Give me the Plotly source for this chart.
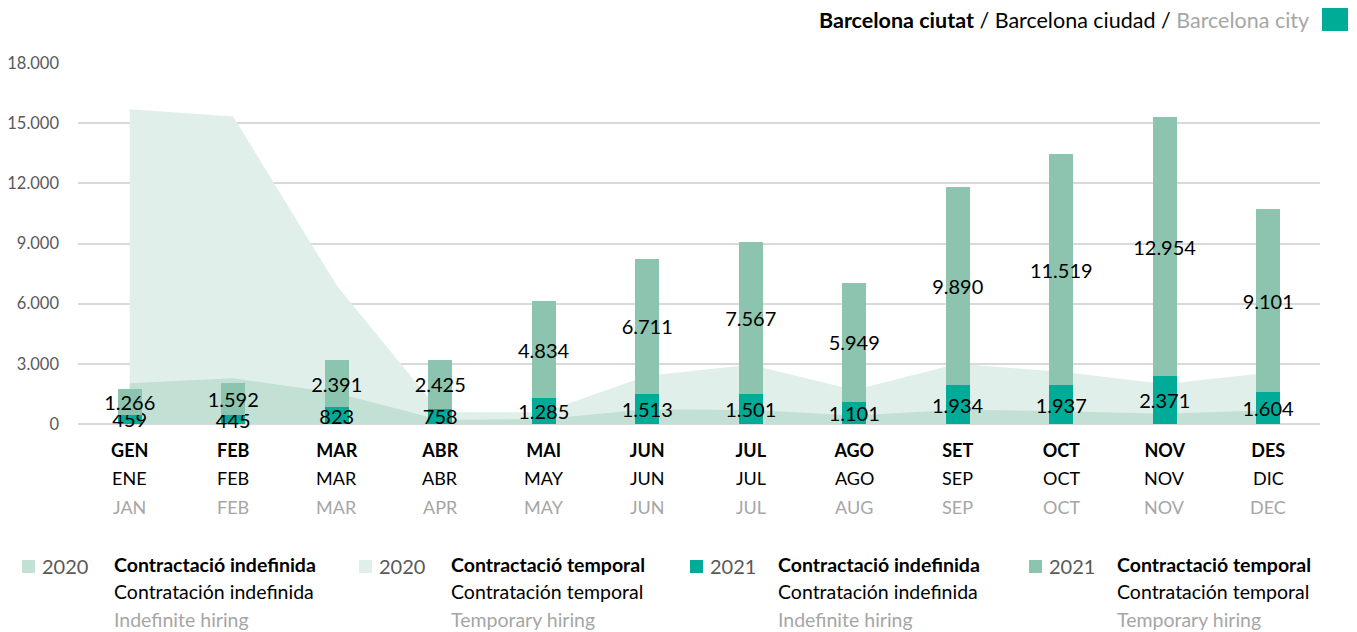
import plotly.graph_objects as go

# ---------------- data ----------------
months_ca = ["GEN", "FEB", "MAR", "ABR", "MAI", "JUN", "JUL", "AGO", "SET", "OCT", "NOV", "DES"]
months_es = ["ENE", "FEB", "MAR", "ABR", "MAY", "JUN", "JUL", "AGO", "SEP", "OCT", "NOV", "DIC"]
months_en = ["JAN", "FEB", "MAR", "APR", "MAY", "JUN", "JUL", "AUG", "SEP", "OCT", "NOV", "DEC"]

indef_2021 = [459, 445, 823, 758, 1285, 1513, 1501, 1101, 1934, 1937, 2371, 1604]
temp_2021 = [1266, 1592, 2391, 2425, 4834, 6711, 7567, 5949, 9890, 11519, 12954, 9101]
temp_2020 = [15700, 15330, 6900, 580, 580, 2400, 2950, 1700, 3000, 2600, 2000, 2550]
indef_2020 = [2030, 2280, 1550, 200, 250, 740, 700, 430, 710, 640, 510, 680]

y_ticks = [0, 3000, 6000, 9000, 12000, 15000, 18000]

# ---------------- style ----------------
C_IND21 = "#00AB97"
C_TMP21 = "#8CC4AF"
C_IND20 = "#C3E0D5"
C_TMP20 = "#E0EFEA"
GRAY = "#A6A6A6"
DARK = "#595959"
FONT = "Lato"

OFF = 8  # page body margin in the browser
PAGE_W, PAGE_H = 1357, 632
W, H = PAGE_W - OFF, PAGE_H - OFF
# plot area in page pixels
L, R, T, B = 78, 1320, 63, 424


def fx(px):
    return (px - L) / (R - L)


def fy(py):
    return (B - py) / (B - T)


fig = go.Figure()

# 2020 areas (main axes, drawn below)
fig.add_trace(go.Scatter(x=months_ca, y=temp_2020, mode="none", fill="tozeroy",
                         fillcolor=C_TMP20, hoverinfo="skip", showlegend=False,
                         xaxis="x", yaxis="y"))
fig.add_trace(go.Scatter(x=months_ca, y=indef_2020, mode="none", fill="tozeroy",
                         fillcolor=C_IND20, hoverinfo="skip", showlegend=False,
                         xaxis="x", yaxis="y"))

# 2021 bars (overlay axes, drawn on top)
bar_common = dict(width=0.232, textposition="inside", insidetextanchor="middle",
                  textangle=0, constraintext="none", texttemplate="%{y:,}",
                  textfont=dict(family=FONT, size=20, color="black"),
                  showlegend=False, xaxis="x2", yaxis="y2", cliponaxis=False)
fig.add_trace(go.Bar(x=months_ca, y=indef_2021, marker=dict(color=C_IND21, line=dict(width=0)),
                     **bar_common))
fig.add_trace(go.Bar(x=months_ca, y=temp_2021, marker=dict(color=C_TMP21, line=dict(width=0)),
                     **bar_common))

yaxis_common = dict(range=[0, 18000], tickvals=y_ticks, tickformat=",d", automargin=False)

fig.update_layout(
    width=W, height=H,
    margin=dict(l=L - OFF, r=PAGE_W - R, t=T - OFF, b=PAGE_H - B, pad=0, autoexpand=False),
    paper_bgcolor="white", plot_bgcolor="white",
    separators=",.",
    barmode="stack",
    font=dict(family=FONT, size=16, color=DARK),
    xaxis=dict(type="category", categoryorder="array", categoryarray=months_ca,
               range=[-0.5, 11.5], showgrid=False, zeroline=False, showline=False,
               ticks="", tickvals=months_ca, automargin=False,
               ticktext=[f"<b>{m}</b>" for m in months_ca],
               tickfont=dict(family=FONT, size=18, color="black"),
               ticklabelstandoff=14),
    yaxis=dict(**yaxis_common, showgrid=True, gridcolor="#D9D9D9", gridwidth=2,
               zeroline=True, zerolinecolor="#D9D9D9", zerolinewidth=2,
               tickfont=dict(family=FONT, size=16.5, color=DARK), ticks="",
               ticklabelstandoff=18),
    xaxis2=dict(type="category", categoryorder="array", categoryarray=months_ca,
                range=[-0.5, 11.5], overlaying="x", showticklabels=False,
                showgrid=False, zeroline=False, ticks="", automargin=False),
    yaxis2=dict(**yaxis_common, overlaying="y", showticklabels=False,
                showgrid=False, zeroline=False, ticks=""),
    bargap=0.5,
)

annotations = []
# x labels rows 2 and 3
for m, es, en in zip(months_ca, months_es, months_en):
    annotations.append(dict(x=m, xref="x", y=fy(478), yref="paper", text=es,
                            showarrow=False, xanchor="center", yanchor="middle",
                            font=dict(family=FONT, size=18, color="black")))
    annotations.append(dict(x=m, xref="x", y=fy(507), yref="paper", text=en,
                            showarrow=False, xanchor="center", yanchor="middle",
                            font=dict(family=FONT, size=18, color=GRAY)))

# title top-right
annotations.append(dict(
    x=fx(1311), xref="paper", y=fy(20), yref="paper", xanchor="right", yanchor="middle",
    showarrow=False,
    text=("<b>Barcelona ciutat</b> / Barcelona ciudad / "
          f"<span style='color:{GRAY}'>Barcelona city</span>"),
    font=dict(family=FONT, size=21.5, color="black")))

shapes = [dict(type="rect", xref="paper", yref="paper",
               x0=fx(1322), x1=fx(1348), y0=fy(31), y1=fy(4),
               fillcolor=C_IND21, line=dict(width=0))]

# custom legend
legend_items = [
    (22, C_IND20, "2020", 112, "Contractació indefinida", "Contratación indefinida", "Indefinite hiring"),
    (359, C_TMP20, "2020", 449, "Contractació temporal", "Contratación temporal", "Temporary hiring"),
    (690, C_IND21, "2021", 776, "Contractació indefinida", "Contratación indefinida", "Indefinite hiring"),
    (1029, C_TMP21, "2021", 1115, "Contractació temporal", "Contratación temporal", "Temporary hiring"),
]
for sx, col, yr, tx, l1, l2, l3 in legend_items:
    shapes.append(dict(type="rect", xref="paper", yref="paper",
                       x0=fx(sx), x1=fx(sx + 13), y0=fy(573), y1=fy(560),
                       fillcolor=col, line=dict(width=0)))
    annotations.append(dict(x=fx(sx + 18), xref="paper", y=fy(566), yref="paper",
                            xanchor="left", yanchor="middle", showarrow=False, text=yr,
                            font=dict(family=FONT, size=20, color=DARK)))
    annotations.append(dict(x=fx(tx), xref="paper", y=fy(564), yref="paper",
                            xanchor="left", yanchor="middle", showarrow=False,
                            text=f"<b>{l1}</b>",
                            font=dict(family=FONT, size=19.5, color="black")))
    annotations.append(dict(x=fx(tx), xref="paper", y=fy(591), yref="paper",
                            xanchor="left", yanchor="middle", showarrow=False, text=l2,
                            font=dict(family=FONT, size=19.5, color="black")))
    annotations.append(dict(x=fx(tx), xref="paper", y=fy(619), yref="paper",
                            xanchor="left", yanchor="middle", showarrow=False, text=l3,
                            font=dict(family=FONT, size=19.5, color=GRAY)))

fig.update_layout(annotations=annotations, shapes=shapes)

fig.write_html("out.html")
